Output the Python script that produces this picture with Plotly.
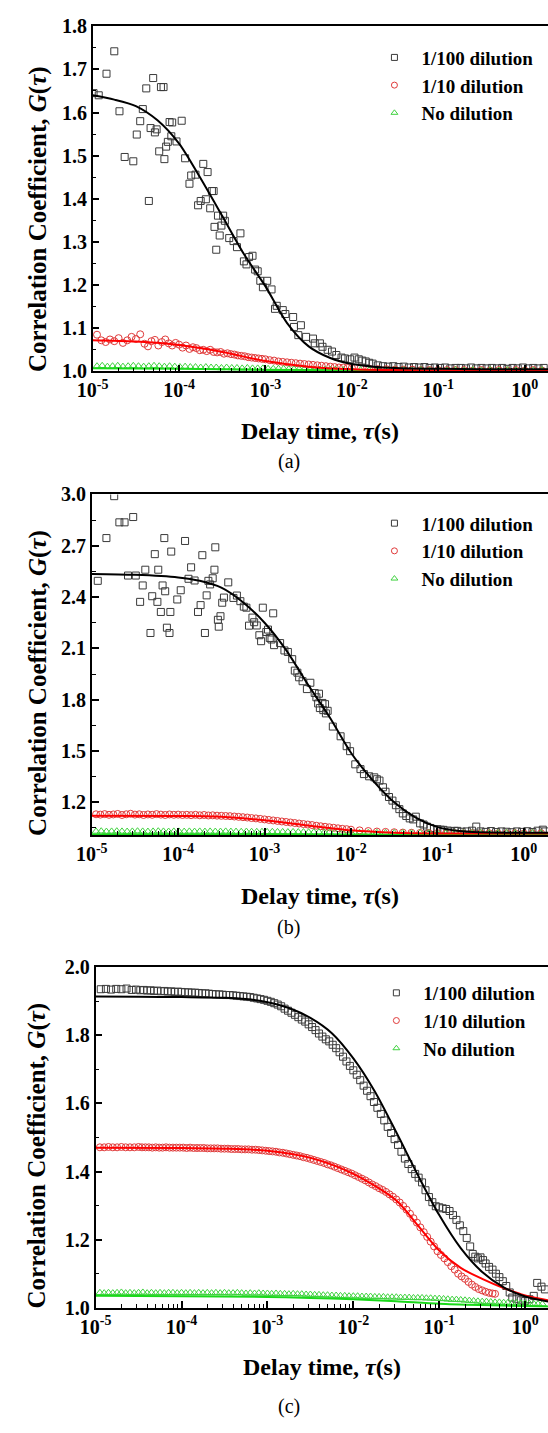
import plotly.graph_objects as go

# ---------------- DATA (log10 of delay time, G) ----------------
# Panel (a)
A_SQ = [(-4.99,1.645),(-4.93,1.640),(-4.84,1.690),(-4.75,1.742),(-4.69,1.603),(-4.63,1.497),(-4.53,1.487),
        (-4.49,1.549),(-4.45,1.580),(-4.42,1.608),(-4.38,1.656),(-4.35,1.395),(-4.33,1.564),(-4.30,1.680),
        (-4.28,1.554),(-4.26,1.561),(-4.23,1.510),(-4.21,1.659),(-4.18,1.659),(-4.17,1.492),(-4.15,1.521),
        (-4.13,1.532),(-4.11,1.578),(-4.09,1.545),(-4.08,1.577),(-4.03,1.533),(-3.97,1.581),(-3.93,1.494),
        (-3.88,1.435),(-3.86,1.454),(-3.81,1.456),(-3.78,1.385),(-3.75,1.395),(-3.72,1.481),(-3.69,1.399),
        (-3.67,1.462),(-3.64,1.378),(-3.62,1.418),(-3.60,1.418),(-3.59,1.335),(-3.57,1.282),(-3.55,1.361),
        (-3.53,1.315),(-3.51,1.338),(-3.49,1.361),(-3.47,1.349),(-3.42,1.309),(-3.37,1.302),(-3.33,1.288),
        (-3.29,1.320),(-3.25,1.255),(-3.22,1.248),(-3.19,1.265),(-3.15,1.268),(-3.12,1.236),(-3.09,1.232),
        (-3.06,1.210),(-3.03,1.195),(-2.98,1.210),(-2.93,1.190),(-2.89,1.145),(-2.87,1.152),(-2.80,1.142),
        (-2.77,1.133),(-2.68,1.126),(-2.67,1.103),(-2.62,1.084),(-2.59,1.107),(-2.53,1.080),(-2.45,1.076),
        (-2.43,1.065),(-2.37,1.065),(-2.34,1.057),(-2.28,1.050),(-2.23,1.046),(-2.18,1.038),(-2.12,1.032),
        (-2.08,1.030),(-2.02,1.028),(-1.97,1.032),(-1.92,1.028),(-1.88,1.025),(-1.84,1.023),(-1.80,1.020),
        (-1.76,1.018),(-1.70,1.014),(-1.64,1.012),(-1.58,1.011),(-1.52,1.012),(-1.46,1.010),(-1.40,1.011),
        (-1.34,1.009),(-1.28,1.010),(-1.22,1.009),(-1.16,1.010),(-1.10,1.008),(-1.04,1.009),(-0.98,1.008),
        (-0.92,1.009),(-0.86,1.007),(-0.80,1.008),(-0.74,1.008),(-0.68,1.007),(-0.62,1.009),(-0.56,1.007),
        (-0.50,1.008),(-0.44,1.007),(-0.38,1.008),(-0.32,1.007),(-0.26,1.008),(-0.20,1.006),(-0.14,1.008),
        (-0.08,1.007),(-0.02,1.009),(0.04,1.007),(0.10,1.008),(0.16,1.007),(0.22,1.008)]
A_CI = [(-4.95,1.085),(-4.90,1.072),(-4.85,1.068),(-4.80,1.074),(-4.75,1.070),(-4.70,1.077),(-4.65,1.066),
        (-4.60,1.072),(-4.55,1.080),(-4.50,1.075),(-4.45,1.086),(-4.40,1.064),(-4.36,1.058),(-4.32,1.070),
        (-4.28,1.073),(-4.24,1.060),(-4.20,1.068),(-4.16,1.074),(-4.12,1.065),(-4.08,1.060),(-4.04,1.066),
        (-4.00,1.062),(-3.96,1.055),(-3.92,1.060),(-3.88,1.052),(-3.84,1.056),(-3.80,1.054),(-3.76,1.049),
        (-3.72,1.050),(-3.68,1.047),(-3.64,1.050),(-3.60,1.045),(-3.56,1.044),(-3.52,1.045),(-3.48,1.041),
        (-3.44,1.042),(-3.40,1.040),(-3.36,1.039),(-3.32,1.037),(-3.28,1.036),(-3.24,1.035),(-3.20,1.033),
        (-3.16,1.032),(-3.12,1.031),(-3.08,1.030),(-3.04,1.029),(-3.00,1.028),(-2.95,1.026),(-2.90,1.025),
        (-2.85,1.023),(-2.80,1.022),(-2.75,1.021),(-2.70,1.020),(-2.65,1.019),(-2.60,1.018),(-2.55,1.017),
        (-2.50,1.016),(-2.45,1.015),(-2.40,1.014),(-2.35,1.013),(-2.30,1.012),(-2.25,1.011),(-2.20,1.010),
        (-2.15,1.009),(-2.10,1.009),(-2.05,1.008),(-2.00,1.008),(-1.90,1.007),(-1.80,1.006),(-1.70,1.005),
        (-1.60,1.005),(-1.50,1.004),(-1.40,1.004),(-1.30,1.004),(-1.20,1.003),(-1.10,1.003),(-1.00,1.003),
        (-0.90,1.003),(-0.80,1.003),(-0.70,1.003),(-0.60,1.002),(-0.50,1.003),(-0.40,1.002),(-0.30,1.003),
        (-0.20,1.002),(-0.10,1.003),(0.00,1.002),(0.10,1.003),(0.20,1.002)]
A_TR = [(-4.95,1.012),(-4.89,1.013),(-4.83,1.011),(-4.77,1.012),(-4.71,1.013),(-4.65,1.011),(-4.59,1.012),
        (-4.53,1.013),(-4.47,1.012),(-4.41,1.011),(-4.35,1.012),(-4.29,1.013),(-4.23,1.012),(-4.17,1.011),
        (-4.11,1.012),(-4.05,1.011),(-3.99,1.010),(-3.93,1.011),(-3.87,1.010),(-3.81,1.010),(-3.75,1.009),
        (-3.69,1.010),(-3.63,1.009),(-3.57,1.009),(-3.51,1.008),(-3.45,1.009),(-3.39,1.008),(-3.33,1.008),
        (-3.27,1.007),(-3.21,1.008),(-3.15,1.007),(-3.09,1.007),(-3.03,1.007),(-2.97,1.006),(-2.91,1.006),
        (-2.85,1.006),(-2.79,1.006),(-2.73,1.005),(-2.67,1.005),(-2.61,1.005),(-2.55,1.005),(-2.49,1.004),
        (-2.43,1.004),(-2.37,1.004),(-2.31,1.004),(-2.25,1.004),(-2.19,1.004),(-2.10,1.003),(-2.00,1.003),
        (-1.90,1.003),(-1.80,1.003),(-1.70,1.003),(-1.60,1.003),(-1.50,1.003),(-1.40,1.003),(-1.30,1.002),
        (-1.20,1.003),(-1.10,1.002),(-1.00,1.003),(-0.90,1.002),(-0.80,1.003),(-0.70,1.002),(-0.60,1.003),
        (-0.50,1.002),(-0.40,1.003),(-0.30,1.002),(-0.20,1.003),(-0.10,1.002),(0.00,1.003),(0.10,1.002),
        (0.20,1.003)]
A_FIT_K = [(-5.0,1.640),(-4.75,1.630),(-4.5,1.615),(-4.25,1.582),(-4.0,1.528),(-3.75,1.447),(-3.5,1.360),
           (-3.25,1.272),(-3.0,1.197),(-2.75,1.112),(-2.5,1.058),(-2.25,1.031),(-2.0,1.017),(-1.75,1.011),
           (-1.5,1.008),(-1.0,1.006),(-0.5,1.005),(0.0,1.005),(0.27,1.005)]
A_FIT_R = [(-5.0,1.072),(-4.5,1.069),(-4.0,1.061),(-3.5,1.045),(-3.0,1.024),(-2.5,1.011),(-2.0,1.005),
           (-1.5,1.003),(-1.0,1.002),(0.27,1.002)]
A_FIT_G = [(-5.0,1.007),(-4.0,1.006),(-3.0,1.004),(-2.0,1.002),(-1.0,1.001),(0.27,1.001)]

# Panel (b)
B_SQ = [(-4.93,2.495),(-4.83,2.745),(-4.74,2.990),(-4.68,2.837),(-4.62,2.837),(-4.58,2.526),(-4.52,2.868),
        (-4.49,2.526),(-4.44,2.372),(-4.41,2.468),(-4.38,2.560),(-4.32,2.190),(-4.30,2.405),(-4.27,2.651),
        (-4.24,2.372),(-4.23,2.560),(-4.20,2.313),(-4.18,2.468),(-4.16,2.745),(-4.15,2.434),(-4.13,2.221),
        (-4.10,2.190),(-4.09,2.313),(-4.08,2.666),(-4.01,2.386),(-3.97,2.440),(-3.92,2.728),(-3.88,2.507),
        (-3.85,2.574),(-3.81,2.497),(-3.77,2.313),(-3.74,2.353),(-3.72,2.645),(-3.69,2.190),(-3.67,2.410),
        (-3.65,2.495),(-3.63,2.474),(-3.60,2.510),(-3.58,2.560),(-3.57,2.691),(-3.54,2.267),(-3.53,2.227),
        (-3.51,2.288),(-3.49,2.367),(-3.47,2.397),(-3.42,2.486),(-3.36,2.395),(-3.32,2.409),(-3.28,2.376),
        (-3.24,2.344),(-3.21,2.338),(-3.18,2.233),(-3.14,2.280),(-3.12,2.253),(-3.09,2.234),(-3.06,2.177),
        (-3.04,2.142),(-3.02,2.338),(-2.98,2.196),(-2.96,2.210),(-2.94,2.161),(-2.92,2.152),(-2.90,2.305),
        (-2.89,2.119),(-2.82,2.131),(-2.77,2.088),(-2.73,2.079),(-2.68,2.037),(-2.65,1.970),(-2.62,1.958),
        (-2.60,1.931),(-2.56,1.908),(-2.51,1.862),(-2.47,1.899),(-2.42,1.839),(-2.40,1.814),(-2.38,1.778),
        (-2.37,1.835),(-2.36,1.751),(-2.33,1.781),(-2.32,1.739),(-2.30,1.774),(-2.29,1.720),(-2.27,1.735),
        (-2.21,1.643),(-2.12,1.586),(-2.05,1.528),(-2.01,1.499),(-1.95,1.422),(-1.89,1.394),(-1.85,1.365),
        (-1.79,1.352),(-1.73,1.346),(-1.70,1.335),(-1.67,1.327),(-1.63,1.288),(-1.60,1.262),(-1.56,1.231),
        (-1.52,1.210),(-1.48,1.183),(-1.44,1.160),(-1.40,1.135),(-1.36,1.120),(-1.32,1.106),(-1.28,1.100),
        (-1.25,1.116),(-1.20,1.077),(-1.16,1.070),(-1.12,1.058),(-1.08,1.050),(-1.04,1.044),(-1.00,1.043),
        (-0.96,1.040),(-0.93,1.039),(-0.88,1.035),(-0.84,1.030),(-0.80,1.033),(-0.77,1.033),(-0.72,1.028),
        (-0.66,1.030),(-0.60,1.034),(-0.55,1.058),(-0.50,1.030),(-0.44,1.027),(-0.38,1.032),(-0.32,1.026),
        (-0.26,1.030),(-0.20,1.028),(-0.14,1.025),(-0.08,1.030),(-0.02,1.027),(0.04,1.031),(0.10,1.026),
        (0.16,1.034),(0.22,1.040),(0.25,1.030)]
B_CI = [(-4.95,1.130),(-4.90,1.128),(-4.85,1.131),(-4.80,1.127),(-4.75,1.129),(-4.70,1.132),(-4.65,1.126),
        (-4.60,1.130),(-4.55,1.133),(-4.50,1.128),(-4.45,1.130),(-4.40,1.126),(-4.35,1.129),(-4.30,1.127),
        (-4.25,1.131),(-4.20,1.128),(-4.15,1.126),(-4.10,1.129),(-4.05,1.127),(-4.00,1.128),(-3.95,1.126),
        (-3.90,1.127),(-3.85,1.125),(-3.80,1.127),(-3.75,1.124),(-3.70,1.126),(-3.65,1.123),(-3.60,1.124),
        (-3.55,1.122),(-3.50,1.121),(-3.45,1.120),(-3.40,1.119),(-3.35,1.117),(-3.30,1.115),(-3.25,1.113),
        (-3.20,1.111),(-3.15,1.108),(-3.10,1.106),(-3.05,1.103),(-3.00,1.100),(-2.95,1.097),(-2.90,1.094),
        (-2.85,1.091),(-2.80,1.088),(-2.75,1.085),(-2.70,1.082),(-2.65,1.079),(-2.60,1.076),(-2.55,1.073),
        (-2.50,1.070),(-2.45,1.067),(-2.40,1.063),(-2.35,1.060),(-2.30,1.057),(-2.25,1.054),(-2.20,1.051),
        (-2.15,1.048),(-2.10,1.045),(-2.05,1.043),(-2.00,1.040),(-1.90,1.036),(-1.80,1.032),(-1.70,1.029),
        (-1.60,1.027),(-1.50,1.025),(-1.40,1.023),(-1.30,1.022),(-1.20,1.021),(-1.10,1.020),(-1.00,1.020),
        (-0.90,1.019),(-0.80,1.019),(-0.70,1.018),(-0.60,1.019),(-0.50,1.018),(-0.40,1.019),(-0.30,1.018),
        (-0.20,1.018),(-0.10,1.019),(0.00,1.018),(0.10,1.018),(0.20,1.019)]
B_TR = [(-4.95,1.030),(-4.89,1.031),(-4.83,1.029),(-4.77,1.030),(-4.71,1.031),(-4.65,1.030),(-4.59,1.029),
        (-4.53,1.030),(-4.47,1.031),(-4.41,1.030),(-4.35,1.029),(-4.29,1.030),(-4.23,1.031),(-4.17,1.030),
        (-4.11,1.029),(-4.05,1.030),(-3.99,1.030),(-3.93,1.029),(-3.87,1.030),(-3.81,1.029),(-3.75,1.030),
        (-3.69,1.029),(-3.63,1.030),(-3.57,1.029),(-3.51,1.029),(-3.45,1.030),(-3.39,1.029),(-3.33,1.029),
        (-3.27,1.028),(-3.21,1.029),(-3.15,1.028),(-3.09,1.028),(-3.03,1.028),(-2.97,1.027),(-2.91,1.028),
        (-2.85,1.027),(-2.79,1.027),(-2.73,1.026),(-2.67,1.027),(-2.61,1.026),(-2.55,1.026),(-2.49,1.025),
        (-2.43,1.025),(-2.37,1.025),(-2.31,1.024),(-2.25,1.024),(-2.19,1.024),(-2.10,1.023),(-2.00,1.023),
        (-1.90,1.022),(-1.80,1.022),(-1.70,1.022),(-1.60,1.021),(-1.50,1.021),(-1.40,1.021),(-1.30,1.020),
        (-1.20,1.021),(-1.10,1.020),(-1.00,1.020),(-0.90,1.020),(-0.80,1.021),(-0.70,1.020),(-0.60,1.020),
        (-0.50,1.021),(-0.40,1.020),(-0.30,1.020),(-0.20,1.021),(-0.10,1.020),(0.00,1.020),(0.10,1.021),
        (0.20,1.020)]
B_FIT_K = [(-5.0,2.535),(-4.5,2.530),(-4.0,2.515),(-3.75,2.495),(-3.5,2.455),(-3.25,2.370),(-3.0,2.250),
           (-2.75,2.090),(-2.5,1.890),(-2.25,1.700),(-2.0,1.490),(-1.75,1.330),(-1.5,1.200),(-1.25,1.110),
           (-1.0,1.055),(-0.75,1.032),(-0.5,1.025),(0.0,1.022),(0.28,1.022)]
B_FIT_R = [(-5.0,1.121),(-4.0,1.120),(-3.5,1.116),(-3.0,1.095),(-2.5,1.065),(-2.0,1.036),(-1.5,1.022),
           (-1.0,1.018),(0.28,1.017)]
B_FIT_G = [(-5.0,1.012),(-3.0,1.012),(-1.0,1.011),(0.28,1.010)]

# Panel (c)
C_SQ = [(-4.94,1.935),(-4.88,1.936),(-4.82,1.934),(-4.76,1.936),(-4.70,1.935),(-4.64,1.937),(-4.58,1.933),
        (-4.53,1.934),(-4.48,1.932),(-4.44,1.933),(-4.40,1.931),(-4.36,1.932),(-4.32,1.930),(-4.28,1.931),
        (-4.24,1.929),(-4.20,1.930),(-4.16,1.928),(-4.12,1.929),(-4.08,1.927),(-4.04,1.928),(-4.00,1.927),
        (-3.96,1.926),(-3.92,1.926),(-3.88,1.925),(-3.84,1.925),(-3.80,1.924),(-3.76,1.923),(-3.72,1.923),
        (-3.68,1.922),(-3.64,1.921),(-3.60,1.920),(-3.56,1.920),(-3.52,1.919),(-3.48,1.918),(-3.44,1.918),
        (-3.40,1.917),(-3.36,1.916),(-3.32,1.915),(-3.28,1.914),(-3.24,1.913),(-3.20,1.912),(-3.16,1.910),
        (-3.12,1.908),(-3.08,1.906),(-3.04,1.904),(-3.00,1.901),(-2.96,1.898),(-2.92,1.894),(-2.88,1.890),
        (-2.84,1.885),(-2.80,1.878),(-2.76,1.872),(-2.72,1.866),(-2.68,1.860),(-2.64,1.853),(-2.60,1.846),
        (-2.56,1.840),(-2.52,1.832),(-2.48,1.824),(-2.44,1.815),(-2.40,1.805),(-2.36,1.796),(-2.32,1.788),
        (-2.28,1.782),(-2.24,1.772),(-2.20,1.762),(-2.16,1.750),(-2.12,1.737),(-2.08,1.723),(-2.04,1.710),
        (-2.00,1.697),(-1.96,1.684),(-1.92,1.668),(-1.88,1.652),(-1.84,1.637),(-1.80,1.621),(-1.76,1.604),
        (-1.72,1.587),(-1.68,1.569),(-1.64,1.550),(-1.60,1.531),(-1.56,1.513),(-1.52,1.495),(-1.48,1.478),
        (-1.44,1.458),(-1.40,1.438),(-1.36,1.422),(-1.32,1.407),(-1.28,1.393),(-1.24,1.382),(-1.20,1.368),
        (-1.16,1.345),(-1.12,1.325),(-1.08,1.310),(-1.04,1.298),(-1.00,1.295),(-0.96,1.292),(-0.92,1.290),
        (-0.88,1.284),(-0.84,1.272),(-0.80,1.258),(-0.76,1.242),(-0.72,1.225),(-0.68,1.205),(-0.64,1.180),
        (-0.61,1.158),(-0.58,1.150),(-0.55,1.145),(-0.52,1.148),(-0.49,1.140),(-0.46,1.130),(-0.42,1.120),
        (-0.38,1.112),(-0.34,1.100),(-0.30,1.090),(-0.26,1.078),(-0.22,1.064),(-0.18,1.045),(-0.15,1.030),
        (-0.10,1.025),(-0.05,1.022),(0.00,1.020),(0.05,1.025),(0.10,1.035),(0.14,1.073),(0.19,1.062),
        (0.23,1.054)]
C_CI = [(-4.95,1.471),(-4.90,1.471),(-4.85,1.472),(-4.80,1.471),(-4.75,1.471),(-4.70,1.472),(-4.65,1.471),
        (-4.60,1.471),(-4.55,1.471),(-4.50,1.472),(-4.46,1.471),(-4.42,1.471),(-4.38,1.471),(-4.34,1.470),
        (-4.30,1.471),(-4.26,1.470),(-4.22,1.470),(-4.18,1.471),(-4.14,1.470),(-4.10,1.470),(-4.06,1.470),
        (-4.02,1.470),(-3.98,1.470),(-3.94,1.469),(-3.90,1.470),(-3.86,1.469),(-3.82,1.469),(-3.78,1.469),
        (-3.74,1.469),(-3.70,1.468),(-3.66,1.468),(-3.62,1.468),(-3.58,1.468),(-3.54,1.467),(-3.50,1.467),
        (-3.46,1.467),(-3.42,1.466),(-3.38,1.466),(-3.34,1.466),(-3.30,1.465),(-3.26,1.465),(-3.22,1.465),
        (-3.18,1.464),(-3.14,1.464),(-3.10,1.463),(-3.06,1.462),(-3.02,1.461),(-2.98,1.460),(-2.94,1.459),
        (-2.90,1.458),(-2.86,1.456),(-2.82,1.455),(-2.78,1.453),(-2.74,1.451),(-2.70,1.449),(-2.66,1.447),
        (-2.62,1.445),(-2.58,1.442),(-2.54,1.440),(-2.50,1.437),(-2.46,1.434),(-2.42,1.431),(-2.38,1.428),
        (-2.34,1.425),(-2.30,1.421),(-2.26,1.418),(-2.22,1.414),(-2.18,1.410),(-2.14,1.406),(-2.10,1.402),
        (-2.06,1.398),(-2.02,1.394),(-1.98,1.389),(-1.94,1.384),(-1.90,1.379),(-1.86,1.374),(-1.82,1.368),
        (-1.78,1.362),(-1.74,1.357),(-1.70,1.351),(-1.66,1.346),(-1.62,1.340),(-1.58,1.333),(-1.54,1.326),
        (-1.50,1.318),(-1.46,1.309),(-1.42,1.299),(-1.38,1.288),(-1.34,1.276),(-1.30,1.263),(-1.26,1.250),
        (-1.22,1.236),(-1.18,1.222),(-1.14,1.208),(-1.10,1.194),(-1.06,1.180),(-1.02,1.166),(-0.98,1.155),
        (-0.94,1.145),(-0.90,1.134),(-0.86,1.122),(-0.82,1.112),(-0.78,1.100),(-0.74,1.092),(-0.70,1.085),
        (-0.66,1.076),(-0.62,1.068),(-0.58,1.061),(-0.54,1.055),(-0.50,1.051),(-0.46,1.047),(-0.42,1.044),
        (-0.38,1.042),(-0.35,1.041)]
C_TR = [(-4.95,1.044),(-4.90,1.043),(-4.85,1.044),(-4.80,1.043),(-4.75,1.044),(-4.70,1.045),(-4.65,1.043),
        (-4.60,1.044),(-4.55,1.043),(-4.50,1.044),(-4.45,1.045),(-4.40,1.043),(-4.35,1.044),(-4.30,1.043),
        (-4.25,1.044),(-4.20,1.043),(-4.15,1.044),(-4.10,1.044),(-4.05,1.043),(-4.00,1.044),(-3.95,1.043),
        (-3.90,1.044),(-3.85,1.043),(-3.80,1.044),(-3.75,1.043),(-3.70,1.044),(-3.65,1.043),(-3.60,1.044),
        (-3.55,1.043),(-3.50,1.044),(-3.45,1.043),(-3.40,1.043),(-3.35,1.044),(-3.30,1.043),(-3.25,1.042),
        (-3.20,1.043),(-3.15,1.042),(-3.10,1.043),(-3.05,1.042),(-3.00,1.042),(-2.95,1.041),(-2.90,1.042),
        (-2.85,1.041),(-2.80,1.041),(-2.75,1.040),(-2.70,1.041),(-2.65,1.040),(-2.60,1.040),(-2.55,1.039),
        (-2.50,1.039),(-2.45,1.038),(-2.40,1.038),(-2.35,1.037),(-2.30,1.037),(-2.25,1.036),(-2.20,1.036),
        (-2.15,1.035),(-2.10,1.035),(-2.05,1.034),(-2.00,1.034),(-1.95,1.034),(-1.90,1.033),(-1.85,1.033),
        (-1.80,1.033),(-1.75,1.032),(-1.70,1.032),(-1.65,1.032),(-1.60,1.031),(-1.55,1.031),(-1.50,1.031),
        (-1.45,1.030),(-1.40,1.030),(-1.35,1.030),(-1.30,1.029),(-1.25,1.029),(-1.20,1.029),(-1.15,1.028),
        (-1.10,1.028),(-1.05,1.027),(-1.00,1.027),(-0.95,1.026),(-0.90,1.025),(-0.85,1.024),(-0.80,1.024),
        (-0.75,1.023),(-0.70,1.022),(-0.65,1.021),(-0.60,1.020),(-0.55,1.019),(-0.50,1.018),(-0.45,1.018),
        (-0.40,1.017),(-0.35,1.016),(-0.30,1.016),(-0.25,1.015),(-0.20,1.015),(-0.15,1.014),(-0.10,1.014),
        (-0.05,1.013),(0.00,1.013),(0.05,1.012),(0.10,1.012),(0.15,1.011),(0.20,1.011)]
C_FIT_K = [(-5.0,1.914),(-4.5,1.913),(-4.0,1.912),(-3.5,1.910),(-3.25,1.906),(-3.0,1.897),(-2.75,1.880),
           (-2.5,1.851),(-2.25,1.806),(-2.0,1.732),(-1.75,1.635),(-1.5,1.515),(-1.25,1.390),(-1.0,1.272),
           (-0.75,1.175),(-0.5,1.105),(-0.25,1.060),(0.0,1.033),(0.27,1.018)]
C_FIT_R = [(-5.0,1.470),(-4.0,1.469),(-3.5,1.467),(-3.0,1.461),(-2.5,1.440),(-2.0,1.393),(-1.5,1.315),
           (-1.25,1.242),(-1.0,1.168),(-0.75,1.117),(-0.5,1.085),(-0.25,1.058),(0.0,1.036),(0.27,1.022)]
C_FIT_G = [(-5.0,1.035),(-4.0,1.034),(-3.0,1.032),(-2.5,1.029),(-2.0,1.025),(-1.5,1.019),(-1.0,1.012),
           (-0.5,1.008),(0.0,1.005),(0.27,1.004)]

SERIES_NAMES = ["1/100 dilution", "1/10 dilution", "No dilution"]
X_TICK_EXP = [-5, -4, -3, -2, -1, 0]

# ---------------- STYLE ----------------
FONT = "Liberation Serif"
W, H = 548, 1433
BLACK_M, RED_M, GREEN_M = "#3a3a3a", "#e03a3a", "#3fd23f"
BLACK_L, RED_L, GREEN_L = "#000000", "#ff0000", "#19d919"


def px_x(p):
    return p / W


def px_y(p):
    return 1 - p / H


panels = [
    dict(xl=79, top=15.5, bot=366, xr=[-5, 0.27], yr=[1.0, 1.8], ytick0=1.0, ydt=0.1, yminor=0.05,
         sq=A_SQ, ci=A_CI, tr=A_TR, fk=A_FIT_K, fr=A_FIT_R, fg=A_FIT_G, yt=211, xt=427, cap="(a)", capy=458,
         leg=(362, 28)),
    dict(xl=78, top=491, bot=837, xr=[-5, 0.28], yr=[1.008, 3.0], ytick0=1.2, ydt=0.3, yminor=0.15,
         sq=B_SQ, ci=B_CI, tr=B_TR, fk=B_FIT_K, fr=B_FIT_R, fg=B_FIT_G, yt=682, xt=899, cap="(b)", capy=931,
         leg=(362, 501)),
    dict(xl=82, top=971, bot=1317, xr=[-5, 0.266], yr=[1.0, 2.0], ytick0=1.0, ydt=0.2, yminor=0.1,
         sq=C_SQ, ci=C_CI, tr=C_TR, fk=C_FIT_K, fr=C_FIT_R, fg=C_FIT_G, yt=1162, xt=1377, cap="(c)", capy=1417,
         leg=(364, 978)),
]

fig = go.Figure()
annotations = []
layout = {}


def xs(pairs):
    return [10 ** p[0] for p in pairs]


def ys(pairs):
    return [p[1] for p in pairs]


for i, P in enumerate(panels):
    n = "" if i == 0 else str(i + 1)
    xa, ya = "x" + n, "y" + n
    legname = "legend" + n
    fig.add_trace(go.Scatter(x=xs(P["sq"]), y=ys(P["sq"]), mode="markers", xaxis=xa, yaxis=ya,
                             marker=dict(symbol="square-open", size=7, color=BLACK_M, line=dict(width=1)),
                             showlegend=False))
    fig.add_trace(go.Scatter(x=xs(P["ci"]), y=ys(P["ci"]), mode="markers", xaxis=xa, yaxis=ya,
                             marker=dict(symbol="circle-open", size=7, color=RED_M, line=dict(width=1)),
                             showlegend=False))
    fig.add_trace(go.Scatter(x=xs(P["tr"]), y=ys(P["tr"]), mode="markers", xaxis=xa, yaxis=ya,
                             marker=dict(symbol="triangle-up-open", size=7, color=GREEN_M, line=dict(width=1)),
                             showlegend=False))
    for pairs, col in ((P["fg"], GREEN_L), (P["fr"], RED_L), (P["fk"], BLACK_L)):
        fig.add_trace(go.Scatter(x=xs(pairs), y=ys(pairs), mode="lines", xaxis=xa, yaxis=ya,
                                 line=dict(color=col, width=2, shape="spline", smoothing=0.8),
                                 showlegend=False, hoverinfo="skip"))
    for name, sym, col in zip(SERIES_NAMES, ["square-open", "circle-open", "triangle-up-open"],
                              [BLACK_M, RED_M, GREEN_M]):
        fig.add_trace(go.Scatter(x=[None], y=[None], mode="markers", xaxis=xa, yaxis=ya,
                                 name="<b>%s</b>" % name, legend=legname,
                                 marker=dict(symbol=sym, size=6, color=col, line=dict(width=1))))

    yvals = [round(P["ytick0"] + k * P["ydt"], 3) for k in range(12)
             if P["ytick0"] + k * P["ydt"] <= P["yr"][1] + 1e-9]
    layout["xaxis" + n] = dict(
        type="log", range=P["xr"], domain=[px_x(P["xl"]), 1.0], anchor=ya,
        tickmode="array", tickvals=[10 ** e for e in X_TICK_EXP],
        ticktext=["<b>10<sup>%d</sup></b>" % e for e in X_TICK_EXP],
        ticks="inside", ticklen=7, tickwidth=1.5, tickcolor="black",
        minor=dict(ticks="inside", ticklen=4, tickwidth=1, tickcolor="black", dtick="D1", showgrid=False),
        showline=True, linecolor="black", linewidth=1.6, mirror=True,
        showgrid=False, zeroline=False,
        tickfont=dict(family=FONT, size=20, color="black"))
    layout["yaxis" + n] = dict(
        range=P["yr"], domain=[px_y(P["bot"]), px_y(P["top"])], anchor=xa,
        tickmode="array", tickvals=yvals, ticktext=["<b>%.1f</b>" % v for v in yvals],
        ticks="inside", ticklen=7, tickwidth=1.5, tickcolor="black",
        minor=dict(ticks="inside", ticklen=4, tickwidth=1, tickcolor="black", dtick=P["yminor"],
                   tick0=P["ytick0"], showgrid=False),
        showline=True, linecolor="black", linewidth=1.6,
        showgrid=False, zeroline=False,
        tickfont=dict(family=FONT, size=20, color="black"))
    layout[legname] = dict(
        x=px_x(P["leg"][0]), y=px_y(P["leg"][1]), xanchor="left", yanchor="top",
        bgcolor="rgba(0,0,0,0)", borderwidth=0, itemwidth=44, tracegroupgap=0,
        font=dict(family=FONT, size=19, color="black"))

    annotations.append(dict(text="<b>Correlation Coefficient, <i>G</i>(<i>τ</i>)</b>", textangle=-90,
                            xref="paper", yref="paper", x=px_x(22), y=px_y(P["yt"]),
                            xanchor="center", yanchor="middle", showarrow=False,
                            font=dict(family=FONT, size=25, color="black")))
    annotations.append(dict(text="<b>Delay time, <i>τ</i>(s)</b>", xref="paper", yref="paper",
                            x=px_x((P["xl"] + W) / 2), y=px_y(P["xt"]), xanchor="center", yanchor="middle",
                            showarrow=False, font=dict(family=FONT, size=24, color="black")))
    annotations.append(dict(text=P["cap"], xref="paper", yref="paper", x=px_x(281), y=px_y(P["capy"]),
                            xanchor="center", yanchor="middle", showarrow=False,
                            font=dict(family=FONT, size=20, color="black")))

fig.update_layout(**layout)
fig.update_layout(width=W, height=H, margin=dict(l=0, r=0, t=0, b=0), paper_bgcolor="white",
                  plot_bgcolor="white", annotations=annotations, font=dict(family=FONT))
fig.write_html("out.html", config={"displayModeBar": False},
               post_script="document.body.style.margin='0';")
